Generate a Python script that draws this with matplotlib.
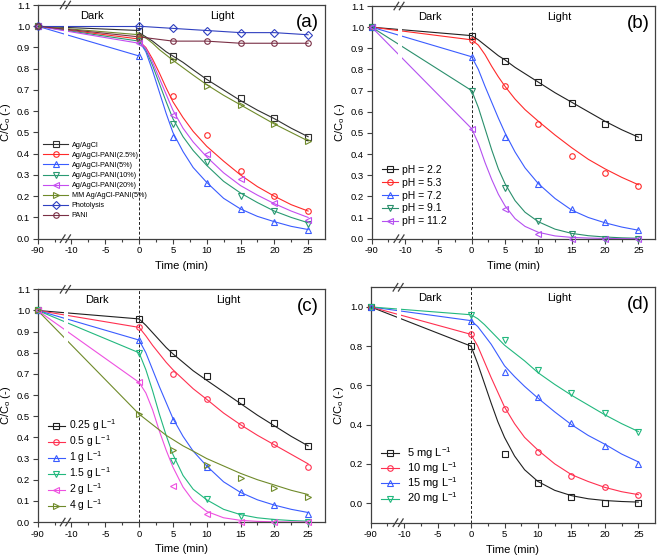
import numpy as np
import matplotlib
matplotlib.use("Agg")
import matplotlib.pyplot as plt
from matplotlib.lines import Line2D
from matplotlib.ticker import FixedLocator, FixedFormatter

plt.rcParams['font.family'] = ['Liberation Sans', 'DejaVu Sans']
plt.rcParams['mathtext.default'] = 'regular'

# ---- data -------------------------------------------------------------
T_DATA = [-90, 0, 5, 10, 15, 20, 25]                        # measured times (min)
T_FIT = [0, 1, 2, 3, 4, 5, 6.5, 8, 10, 12.5, 15, 17.5, 20, 22.5, 25]  # fitted curve read-offs

# (a) catalysts
a_labels = ['Ag/AgCl', 'Ag/AgCl-PANI(2.5%)', 'Ag/AgCl-PANI(5%)', 'Ag/AgCl-PANI(10%)',
            'Ag/AgCl-PANI(20%)', 'MM Ag/AgCl-PANI(5%)', 'Photolysis', 'PANI']
a_data = [
    [1.0, 0.98, 0.86, 0.75, 0.66, 0.57, 0.48],
    [1.0, 0.94, 0.67, 0.49, 0.32, 0.20, 0.13],
    [1.0, 0.86, 0.48, 0.26, 0.14, 0.08, 0.04],
    [1.0, 0.93, 0.54, 0.36, 0.20, 0.13, 0.07],
    [1.0, 0.92, 0.58, 0.40, 0.28, 0.17, 0.09],
    [1.0, 0.96, 0.84, 0.72, 0.63, 0.54, 0.46],
    [1.0, 1.00, 0.99, 0.98, 0.97, 0.97, 0.96],
    [1.0, 0.95, 0.93, 0.93, 0.92, 0.92, 0.92],
]
a_fit = [
    [0.97, 0.95, 0.93, 0.905, 0.88, 0.86, 0.83, 0.795, 0.75, 0.70, 0.65, 0.605, 0.565, 0.52, 0.48],
    [0.93, 0.90, 0.845, 0.78, 0.71, 0.645, 0.57, 0.505, 0.435, 0.365, 0.30, 0.245, 0.20, 0.16, 0.13],
    [0.93, 0.88, 0.79, 0.69, 0.59, 0.50, 0.41, 0.335, 0.265, 0.19, 0.14, 0.105, 0.08, 0.058, 0.043],
    [0.93, 0.89, 0.815, 0.73, 0.645, 0.565, 0.48, 0.415, 0.345, 0.27, 0.215, 0.17, 0.13, 0.10, 0.075],
    [0.93, 0.895, 0.83, 0.755, 0.68, 0.605, 0.52, 0.455, 0.385, 0.31, 0.25, 0.205, 0.165, 0.13, 0.10],
    [0.96, 0.945, 0.92, 0.89, 0.865, 0.84, 0.805, 0.77, 0.725, 0.675, 0.63, 0.585, 0.54, 0.50, 0.46],
    None,
    None,
]
a_colors = ['#303030', '#ff2a2a', '#3a5cff', '#2a9a72', '#c44cf0', '#6f8a2a', '#3040c0', '#7a2f45']
a_markers = ['s', 'o', '^', 'v', '<', '>', 'D', 'o']

# (b) pH
b_labels = ['pH = 2.2', 'pH = 5.3', 'pH = 7.2', 'pH = 9.1', 'pH = 11.2']
b_data = [
    [1.0, 0.96, 0.84, 0.74, 0.64, 0.54, 0.48],
    [1.0, 0.94, 0.72, 0.54, 0.39, 0.31, 0.25],
    [1.0, 0.86, 0.48, 0.26, 0.14, 0.08, 0.04],
    [1.0, 0.70, 0.24, 0.085, 0.02, 0.0, 0.0],
    [1.0, 0.52, 0.14, 0.02, 0.0, 0.0, 0.0],
]
b_fit = [
    [0.96, 0.94, 0.915, 0.89, 0.865, 0.845, 0.81, 0.78, 0.74, 0.69, 0.645, 0.60, 0.555, 0.515, 0.48],
    [0.94, 0.915, 0.87, 0.815, 0.765, 0.72, 0.66, 0.61, 0.555, 0.49, 0.43, 0.375, 0.33, 0.29, 0.255],
    [0.86, 0.80, 0.72, 0.645, 0.57, 0.50, 0.41, 0.335, 0.26, 0.19, 0.135, 0.10, 0.075, 0.055, 0.04],
    [0.70, 0.62, 0.52, 0.42, 0.33, 0.26, 0.18, 0.125, 0.08, 0.045, 0.025, 0.014, 0.008, 0.004, 0.002],
    [0.52, 0.45, 0.36, 0.28, 0.21, 0.155, 0.095, 0.058, 0.03, 0.013, 0.006, 0.003, 0.001, 0.0, 0.0],
]
b_colors = ['#202020', '#ff2a2a', '#3a5cff', '#2a8f6c', '#b450f0']
b_markers = ['s', 'o', '^', 'v', '<']

# (c) catalyst dose
c_labels = ['0.25 g L$^{-1}$', '0.5 g L$^{-1}$', '1 g L$^{-1}$', '1.5 g L$^{-1}$',
            '2 g L$^{-1}$', '4 g L$^{-1}$']
c_data = [
    [1.0, 0.96, 0.80, 0.69, 0.57, 0.47, 0.36],
    [1.0, 0.92, 0.70, 0.58, 0.46, 0.37, 0.26],
    [1.0, 0.86, 0.48, 0.26, 0.14, 0.08, 0.04],
    [1.0, 0.80, 0.29, 0.11, 0.03, 0.0, 0.0],
    [1.0, 0.66, 0.17, 0.04, 0.0, 0.0, 0.0],
    [1.0, 0.51, 0.34, 0.27, 0.21, 0.16, 0.12],
]
c_fit = [
    [0.96, 0.93, 0.895, 0.86, 0.825, 0.795, 0.755, 0.715, 0.67, 0.615, 0.56, 0.505, 0.455, 0.405, 0.36],
    [0.92, 0.88, 0.835, 0.795, 0.755, 0.72, 0.675, 0.63, 0.58, 0.515, 0.46, 0.41, 0.365, 0.32, 0.275],
    [0.86, 0.80, 0.72, 0.64, 0.565, 0.49, 0.405, 0.335, 0.265, 0.19, 0.14, 0.105, 0.08, 0.06, 0.045],
    [0.80, 0.72, 0.62, 0.51, 0.41, 0.32, 0.22, 0.155, 0.105, 0.06, 0.035, 0.02, 0.012, 0.007, 0.004],
    [0.66, 0.61, 0.53, 0.43, 0.34, 0.26, 0.165, 0.10, 0.05, 0.02, 0.008, 0.003, 0.001, 0.0, 0.0],
    [0.51, 0.485, 0.46, 0.435, 0.41, 0.39, 0.36, 0.335, 0.30, 0.265, 0.23, 0.20, 0.175, 0.15, 0.13],
]
c_colors = ['#202020', '#ff3050', '#3a5cff', '#22b87e', '#ee50e0', '#6f8a2a']
c_markers = ['s', 'o', '^', 'v', '<', '>']

# (d) initial concentration
d_labels = ['5 mg L$^{-1}$', '10 mg L$^{-1}$', '15 mg L$^{-1}$', '20 mg L$^{-1}$']
d_data = [
    [1.0, 0.80, 0.25, 0.10, 0.03, 0.0, 0.0],
    [1.0, 0.86, 0.48, 0.26, 0.14, 0.08, 0.04],
    [1.0, 0.93, 0.67, 0.54, 0.41, 0.29, 0.20],
    [1.0, 0.96, 0.83, 0.68, 0.56, 0.46, 0.36],
]
d_fit = [
    [0.80, 0.71, 0.61, 0.51, 0.415, 0.335, 0.24, 0.17, 0.11, 0.065, 0.038, 0.022, 0.013, 0.008, 0.005],
    [0.86, 0.80, 0.72, 0.64, 0.565, 0.49, 0.405, 0.335, 0.27, 0.20, 0.145, 0.11, 0.08, 0.058, 0.043],
    [0.93, 0.90, 0.855, 0.81, 0.755, 0.70, 0.645, 0.595, 0.535, 0.465, 0.40, 0.345, 0.30, 0.25, 0.21],
    [0.96, 0.94, 0.91, 0.875, 0.84, 0.805, 0.765, 0.725, 0.665, 0.605, 0.55, 0.50, 0.45, 0.405, 0.365],
]
d_colors = ['#202020', '#ff3050', '#3a5cff', '#22b87e']
d_markers = ['s', 'o', '^', 'v']

X_TICKS = [-90, -10, -5, 0, 5, 10, 15, 20, 25]


# broken time axis: everything before -10 min squeezed 16x
def fwd(t):
    t = np.asarray(t, dtype=float)
    return np.where(t >= -10, t, -10 + (t + 10) / 16.0)


def inv(p):
    p = np.asarray(p, dtype=float)
    return np.where(p >= -10, p, -10 + (p + 10) * 16.0)


SPINE = '#404040'


def setup_axis(ax, ylim, yticks, letter, dark_x, light_x):
    ax.set_xscale('function', functions=(fwd, inv))
    ax.set_xlim(-90, 27.5)
    ax.set_ylim(*ylim)
    ax.xaxis.set_major_locator(FixedLocator(X_TICKS))
    ax.xaxis.set_major_formatter(FixedFormatter([str(v) for v in X_TICKS]))
    minor_pos = np.arange(-12.5, 25, 5.0)
    ax.xaxis.set_minor_locator(FixedLocator(inv(minor_pos)))
    ax.set_yticks(yticks)
    ax.set_yticklabels(['{:.1f}'.format(v) for v in yticks])
    ax.tick_params(which='major', direction='out', length=3.5, width=0.8, labelsize=6.8,
                   pad=2, color=SPINE, top=False, right=False)
    ax.tick_params(which='minor', direction='out', length=2, width=0.8, color=SPINE,
                   top=False, right=False)
    for s in ax.spines.values():
        s.set_color(SPINE)
        s.set_linewidth(0.9)
    ax.set_xlabel('Time (min)', fontsize=8, labelpad=4)
    ax.set_ylabel('C/C$_o$ (-)', fontsize=8, labelpad=3)
    ax.axvline(0, color='#202020', lw=0.7, ls=(0, (3, 2)), zorder=1)
    # white gap through the dark-period lines
    ax.axvspan(inv(-11.1), inv(-10.5), color='white', zorder=2.2, lw=0)
    # break marks on top and bottom spines
    trans = ax.get_xaxis_transform()
    for yb in (0.0, 1.0):
        for xc in (-11.3, -10.5):
            ax.plot(inv([xc - 0.35, xc + 0.35]), [yb - 0.016, yb + 0.016], color=SPINE,
                    lw=0.9, transform=trans, clip_on=False, zorder=6)
    yr = ylim[1] - ylim[0]
    ax.text(dark_x, ylim[1] - 0.05 * yr / 1.1, 'Dark', fontsize=8, ha='center', va='center')
    ax.text(light_x, ylim[1] - 0.05 * yr / 1.1, 'Light', fontsize=8, ha='center', va='center')
    ax.text(0.94, 0.925, letter, transform=ax.transAxes, fontsize=13.5, ha='center', va='center')


def draw_panel(ax, labels, data, fits, colors, markers, leg_kw):
    handles = []
    for lab, y, yf, col, mk in zip(labels, data, fits, colors, markers):
        # dark adsorption period: straight line from start to t=0
        ax.plot(T_DATA[:2], y[:2], color=col, lw=0.8, zorder=2)
        if yf is None:
            ax.plot(T_DATA[1:], y[1:], color=col, lw=0.8, zorder=2)
        else:
            ax.plot(T_FIT, yf, color=col, lw=0.8, zorder=2)
        ax.plot(T_DATA, y, ls='none', marker=mk, mfc='none', mec=col, mew=0.8, ms=4,
                zorder=3, clip_on=False)
        handles.append(Line2D([], [], color=col, lw=0.8, marker=mk, mfc='none', mec=col,
                              mew=0.8, ms=4))
    ax.legend(handles, labels, frameon=False, numpoints=1, **leg_kw)


fig = plt.figure(figsize=(6.61, 5.57), dpi=100)
ax_a = fig.add_axes([0.057, 0.5715, 0.4347, 0.4195])
ax_b = fig.add_axes([0.5623, 0.5715, 0.4287, 0.4177])
ax_c = fig.add_axes([0.057, 0.0628, 0.4347, 0.4178])
ax_d = fig.add_axes([0.5608, 0.0616, 0.4302, 0.4226])

yt11 = [round(0.1 * i, 1) for i in range(12)]
setup_axis(ax_a, (0, 1.1), yt11, '(a)', -7.0, 12.3)
setup_axis(ax_b, (0, 1.1), yt11, '(b)', -6.2, 13.2)
setup_axis(ax_c, (0, 1.1), yt11, '(c)', -6.2, 13.2)
setup_axis(ax_d, (-0.1, 1.1), [0.0, 0.2, 0.4, 0.6, 0.8, 1.0], '(d)', -6.2, 13.2)

draw_panel(ax_a, a_labels, a_data, a_fit, a_colors, a_markers,
           dict(loc='lower left', bbox_to_anchor=(0.01, 0.07), fontsize=5.2,
                handlelength=3.4, handletextpad=0.5, labelspacing=0.42, borderaxespad=0))
draw_panel(ax_b, b_labels, b_data, b_fit, b_colors, b_markers,
           dict(loc='lower left', bbox_to_anchor=(0.02, 0.035), fontsize=7.5,
                handlelength=1.6, handletextpad=0.4, labelspacing=0.28, borderaxespad=0))
draw_panel(ax_c, c_labels, c_data, c_fit, c_colors, c_markers,
           dict(loc='lower left', bbox_to_anchor=(0.02, 0.02), fontsize=7.5,
                handlelength=1.7, handletextpad=0.4, labelspacing=0.02, borderaxespad=0))
draw_panel(ax_d, d_labels, d_data, d_fit, d_colors, d_markers,
           dict(loc='lower left', bbox_to_anchor=(0.02, 0.05), fontsize=8,
                handlelength=1.6, handletextpad=0.8, labelspacing=-0.05, borderaxespad=0))

fig.savefig('out.png', dpi=100)
